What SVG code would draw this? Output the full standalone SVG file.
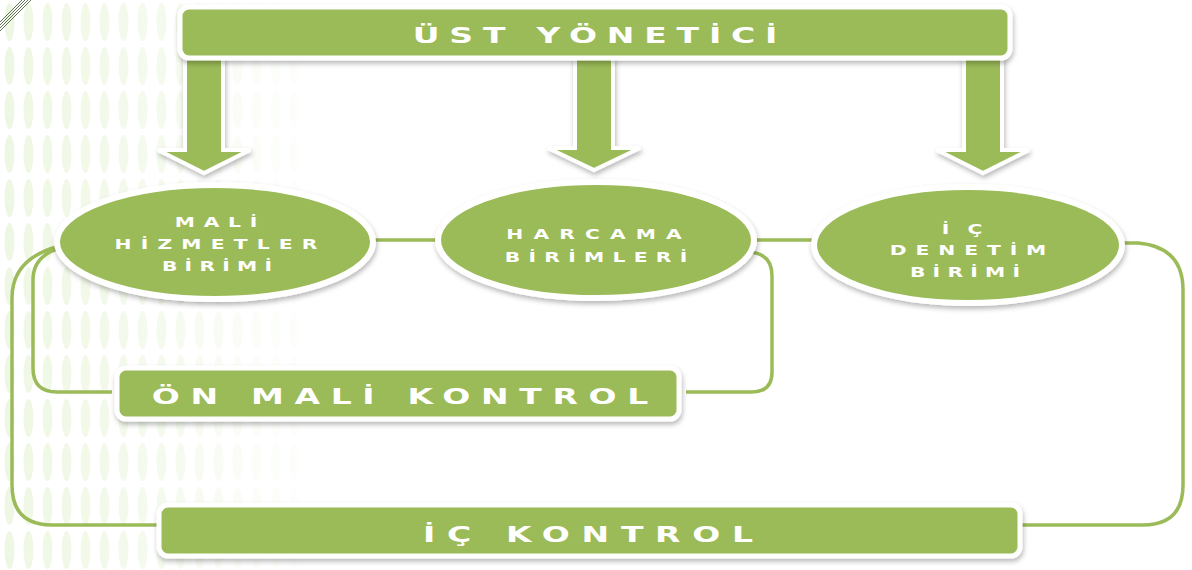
<svg xmlns="http://www.w3.org/2000/svg" width="1192" height="570" viewBox="0 0 1192 570">
  <defs>
    <style>
      .box { fill: #9BBB59; stroke: #ffffff; stroke-width: 5; filter: url(#sh); }
      .ell { fill: #9BBB59; stroke: #ffffff; stroke-width: 6; filter: url(#sh); }
      .arr { fill: #9BBB59; stroke: #ffffff; stroke-width: 4; stroke-linejoin: miter; filter: url(#sh); }
      .con { fill: none; stroke: #9BBB59; stroke-width: 3.5; }
      .big { font-family: "DejaVu Sans", "Liberation Sans", sans-serif; font-weight: bold; font-size: 22px; fill: #ffffff; text-anchor: middle; }
      .sm { font-family: "DejaVu Sans", "Liberation Sans", sans-serif; font-weight: bold; font-size: 14px; fill: #ffffff; text-anchor: middle; }
    </style>
    <filter id="sh" x="-10%" y="-20%" width="120%" height="150%">
      <feDropShadow dx="1" dy="3" stdDeviation="2.5" flood-color="#000000" flood-opacity="0.28"/>
    </filter>
    <pattern id="stripes" x="0" y="0" width="19" height="44" patternUnits="userSpaceOnUse">
      <ellipse cx="9.5" cy="22" rx="5" ry="19" fill="#eef7e3"/>
    </pattern>
    <linearGradient id="fade" x1="0" y1="0" x2="1" y2="0">
      <stop offset="0" stop-color="#fff" stop-opacity="1"/>
      <stop offset="0.5" stop-color="#fff" stop-opacity="0.6"/>
      <stop offset="1" stop-color="#fff" stop-opacity="0"/>
    </linearGradient>
    <mask id="fm" maskUnits="userSpaceOnUse" x="0" y="0" width="320" height="570">
      <rect x="0" y="0" width="320" height="570" fill="url(#fade)"/>
    </mask>
  </defs>

  <rect x="0" y="0" width="1192" height="570" fill="#ffffff"/>
  <g id="background">
    <rect x="0" y="0" width="320" height="570" fill="url(#stripes)" mask="url(#fm)"/>
    <g stroke="#5f6f52" stroke-width="1">
      <line x1="0" y1="22" x2="22" y2="0"/>
      <line x1="0" y1="25" x2="25" y2="0"/>
      <line x1="0" y1="28" x2="28" y2="0"/>
      <line x1="0" y1="31" x2="31" y2="0"/>
    </g>
  </g>

  <g id="connectors">
    <line class="con" x1="372" y1="240" x2="440" y2="240"/>
    <line class="con" x1="752" y1="240" x2="816" y2="240"/>
    <path class="con" d="M 750,252 Q 772,254 772,276 L 772,372 Q 772,392 752,392 L 686,392"/>
    <path class="con" d="M 60,248 Q 33,256 33,280 L 33,368 Q 33,392 57,392 L 112,392"/>
    <path class="con" d="M 60,246 Q 12,258 12,298 L 12,485 Q 12,525 52,525 L 158,525"/>
    <path class="con" d="M 1120,243 L 1138,243 Q 1183,247 1183,290 L 1183,485 Q 1183,525 1143,525 L 1020,525"/>
  </g>

  <g id="arrow-left"><path class="arr" d="M 185,58 L 223,58 L 223,150 L 250,150 L 204,173 L 158,150 L 185,150 Z"/></g>
  <g id="arrow-mid"><path class="arr" d="M 575,58 L 613,58 L 613,148 L 640,148 L 594,170 L 548,148 L 575,148 Z"/></g>
  <g id="arrow-right"><path class="arr" d="M 964,58 L 1002,58 L 1002,150 L 1029,150 L 983,173 L 937,150 L 964,150 Z"/></g>

  <g id="ust-yonetici">
    <rect class="box" x="180" y="7" width="830" height="51" rx="9"/>
    <g transform="translate(595,43) scale(1.5,1)"><text class="big" x="0" y="0" textLength="243" lengthAdjust="spacing">ÜST YÖNETİCİ</text></g>
  </g>

  <g id="mali-hizmetler">
    <ellipse class="ell" cx="215" cy="242" rx="158" ry="57"/>
    <g transform="translate(216,227) scale(1.45,1)"><text class="sm" x="0" y="0" textLength="57" lengthAdjust="spacing">MALİ</text></g>
    <g transform="translate(216,249) scale(1.45,1)"><text class="sm" x="0" y="0" textLength="140" lengthAdjust="spacing">HİZMETLER</text></g>
    <g transform="translate(217,271) scale(1.45,1)"><text class="sm" x="0" y="0" textLength="76" lengthAdjust="spacing">BİRİMİ</text></g>
  </g>

  <g id="harcama">
    <ellipse class="ell" cx="596" cy="240" rx="158" ry="58"/>
    <g transform="translate(594,239) scale(1.45,1)"><text class="sm" x="0" y="0" textLength="121" lengthAdjust="spacing">HARCAMA</text></g>
    <g transform="translate(596,262) scale(1.45,1)"><text class="sm" x="0" y="0" textLength="126" lengthAdjust="spacing">BİRİMLERİ</text></g>
  </g>

  <g id="ic-denetim">
    <ellipse class="ell" cx="968" cy="245" rx="154" ry="58"/>
    <g transform="translate(962,234) scale(1.45,1)"><text class="sm" x="0" y="0" textLength="28" lengthAdjust="spacing">İÇ</text></g>
    <g transform="translate(968,255) scale(1.45,1)"><text class="sm" x="0" y="0" textLength="108" lengthAdjust="spacing">DENETİM</text></g>
    <g transform="translate(965,277) scale(1.45,1)"><text class="sm" x="0" y="0" textLength="76" lengthAdjust="spacing">BİRİMİ</text></g>
  </g>

  <g id="on-mali-kontrol">
    <rect class="box" x="117" y="368" width="562" height="51" rx="9"/>
    <g transform="translate(400,404) scale(1.5,1)"><text class="big" x="0" y="0" textLength="331" lengthAdjust="spacing">ÖN MALİ KONTROL</text></g>
  </g>

  <g id="ic-kontrol">
    <rect class="box" x="159" y="505" width="861" height="51" rx="9"/>
    <g transform="translate(588,542) scale(1.5,1)"><text class="big" x="0" y="0" textLength="220" lengthAdjust="spacing">İÇ KONTROL</text></g>
  </g>
</svg>
